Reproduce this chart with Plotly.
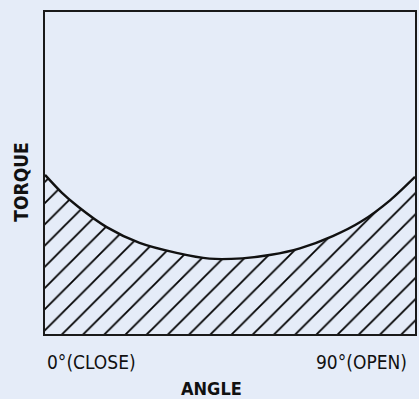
import plotly.graph_objects as go

# --- Data (valve torque vs. opening angle) ---
angle = [0, 4, 8, 15, 23, 32, 40, 48, 55, 62, 70, 77, 84, 90]
torque = [49.4, 44.0, 39.6, 33.2, 28.3, 25.2, 23.4, 23.5, 24.6, 26.6, 30.4, 35.0, 41.6, 48.8]
tick_labels = ["0°(CLOSE)", "90°(OPEN)"]
axis_titles = ["ANGLE", "TORQUE"]

BG = "#e5ecf8"
FONT = "DejaVu Sans Condensed"
INK = "#111111"

fig = go.Figure()
fig.add_trace(go.Scatter(
    x=angle,
    y=torque,
    mode="lines",
    line=dict(color=INK, width=2.4, shape="spline", smoothing=0.8),
    fill="tozeroy",
    fillcolor=BG,
    fillpattern=dict(shape="/", size=15, solidity=0.12, fgcolor="#000000", fgopacity=1,
                     bgcolor=BG, fillmode="replace"),
    hoverinfo="skip",
))

fig.update_xaxes(range=[0, 90], showgrid=False, zeroline=False, showticklabels=False, ticks="",
                 showline=True, mirror=True, linecolor="#1a1a1a", linewidth=2)
fig.update_yaxes(range=[0, 100], showgrid=False, zeroline=False, showticklabels=False, ticks="",
                 showline=True, mirror=True, linecolor="#1a1a1a", linewidth=2)

# tick labels under the ends of the x axis
fig.add_annotation(x=0, y=0, xref="paper", yref="paper", text=tick_labels[0], showarrow=False,
                   xanchor="left", yanchor="top", yshift=-15, font=dict(family=FONT, size=19, color=INK))
fig.add_annotation(x=1, y=0, xref="paper", yref="paper", text=tick_labels[1], showarrow=False,
                   xanchor="right", yanchor="top", xshift=-6, yshift=-15, font=dict(family=FONT, size=19, color=INK))
# axis titles
fig.add_annotation(x=0.45, y=0, xref="paper", yref="paper", text="<b>" + axis_titles[0] + "</b>", showarrow=False,
                   xanchor="center", yanchor="top", yshift=-42, font=dict(family=FONT, size=18, color=INK))
fig.add_annotation(x=0, y=0.47, xref="paper", yref="paper", text="<b>" + axis_titles[1] + "</b>", showarrow=False,
                   textangle=-90, xanchor="center", yanchor="middle", xshift=-24, font=dict(family=FONT, size=19, color=INK))

fig.update_layout(
    width=419, height=399,
    margin=dict(l=45, r=2, t=12, b=65),
    paper_bgcolor=BG, plot_bgcolor=BG,
    showlegend=False,
)

# drop the default page margin so the figure fills the window
fig.write_html("out.html", config={"displayModeBar": False},
               post_script="document.body.style.margin='0';document.body.style.background='%s';" % BG)
